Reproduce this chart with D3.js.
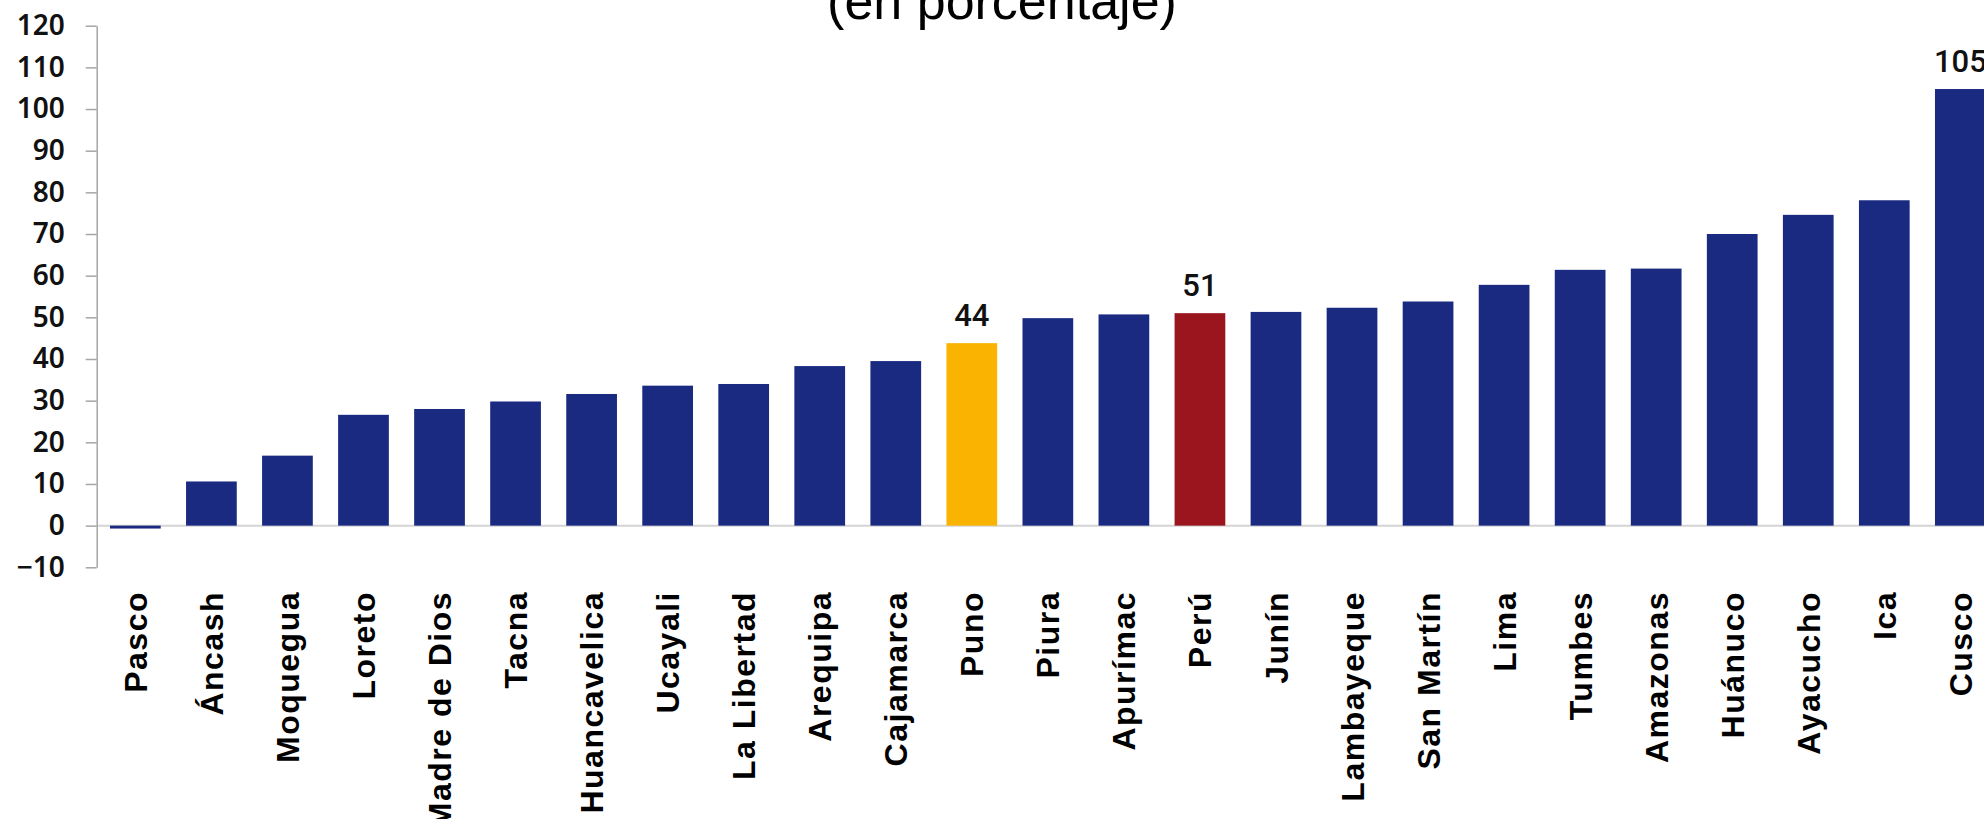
<!DOCTYPE html>
<html>
<head>
<meta charset="utf-8">
<script src="https://cdn.jsdelivr.net/npm/d3@7"></script>
<style>
  html, body { margin: 0; padding: 0; background: #fff; }
  svg { display: block; }
</style>
</head>
<body>
<div id="chart"></div>
<script>
// datos
var regiones = ["Pasco", "Áncash", "Moquegua", "Loreto", "Madre de Dios", "Tacna", "Huancavelica",
  "Ucayali", "La Libertad", "Arequipa", "Cajamarca", "Puno", "Piura", "Apurímac", "Perú", "Junín",
  "Lambayeque", "San Martín", "Lima", "Tumbes", "Amazonas", "Huánuco", "Ayacucho", "Ica", "Cusco"];
var valores = [-0.7, 10.6, 16.8, 26.6, 28.0, 29.8, 31.6, 33.6, 34.0, 38.3, 39.5, 43.8, 49.8, 50.7,
  51.0, 51.3, 52.3, 53.8, 57.8, 61.4, 61.7, 70.0, 74.6, 78.1, 104.8];
var conEtiqueta = ["Puno", "Perú", "Cusco"];
var yTicks = [-10, 0, 10, 20, 30, 40, 50, 60, 70, 80, 90, 100, 110, 120];
var titulo = "(en porcentaje)";

var colorBase = "#1a2a80";
var colorPuno = "#f9b300";
var colorPeru = "#9a151d";

var W = 1984, H = 819;
var axisX = 96.7;

var svg = d3.select("#chart").append("svg").attr("width", W).attr("height", H);

var x = d3.scaleBand().domain(regiones).range([110, 1985.7]).paddingInner(0.333).paddingOuter(0).align(0);
var y = d3.scaleLinear().domain([-10, 120]).range([567.3, 25.7]);

// titulo (cortado arriba)
svg.append("text").attr("x", 1002).attr("y", 19).attr("text-anchor", "middle")
  .attr("font-family", "Liberation Sans, Arial, sans-serif").attr("font-size", 52).attr("fill", "#000")
  .text(titulo);

// linea del cero
svg.append("line").attr("x1", axisX).attr("x2", W).attr("y1", y(0)).attr("y2", y(0))
  .attr("stroke", "#d4d4d4").attr("stroke-width", 2);

// barras
svg.selectAll(".bar").data(regiones).enter().append("rect").attr("class", "bar")
  .attr("x", function(d) { return x(d); })
  .attr("width", x.bandwidth())
  .attr("y", function(d, i) { return y(Math.max(0, valores[i])); })
  .attr("height", function(d, i) { return Math.abs(y(valores[i]) - y(0)); })
  .attr("fill", function(d) { return d == "Puno" ? colorPuno : (d == "Perú" ? colorPeru : colorBase); });

// etiquetas de valor
svg.selectAll(".val").data(regiones.filter(function(d) { return conEtiqueta.indexOf(d) >= 0; }))
  .enter().append("text").attr("class", "val")
  .attr("x", function(d) { return x(d) + x.bandwidth() / 2; })
  .attr("y", function(d) { return y(valores[regiones.indexOf(d)]) - 17; })
  .attr("text-anchor", "middle").attr("font-family", "Roboto, sans-serif").attr("font-weight", 500)
  .attr("font-size", 31).attr("fill", "#111")
  .text(function(d) { return Math.round(valores[regiones.indexOf(d)]); });

// eje y
var yAxis = d3.axisLeft(y).tickValues(yTicks).tickSizeInner(11).tickSizeOuter(0).tickPadding(21);
var gy = svg.append("g").attr("transform", "translate(" + axisX + ",0)").call(yAxis);
gy.select(".domain").attr("stroke", "#a6a6a6").attr("stroke-width", 1.5);
gy.selectAll(".tick line").attr("stroke", "#a6a6a6").attr("stroke-width", 1.5);
gy.selectAll(".tick text").attr("font-family", "Noto Sans, sans-serif").attr("font-weight", 600)
  .attr("font-size", 28).attr("fill", "#111");

// etiquetas de categorias (verticales)
svg.selectAll(".cat").data(regiones).enter().append("text").attr("class", "cat")
  .attr("transform", function(d) { return "translate(" + (x(d) + x.bandwidth() / 2) + ",591) rotate(-90)"; })
  .attr("dy", "0.36em").attr("text-anchor", "end")
  .attr("font-family", "Liberation Sans, Arial, sans-serif").attr("font-weight", "bold")
  .attr("font-size", 32).attr("letter-spacing", 1.5).attr("fill", "#000")
  .text(function(d) { return d; });
</script>
</body>
</html>
